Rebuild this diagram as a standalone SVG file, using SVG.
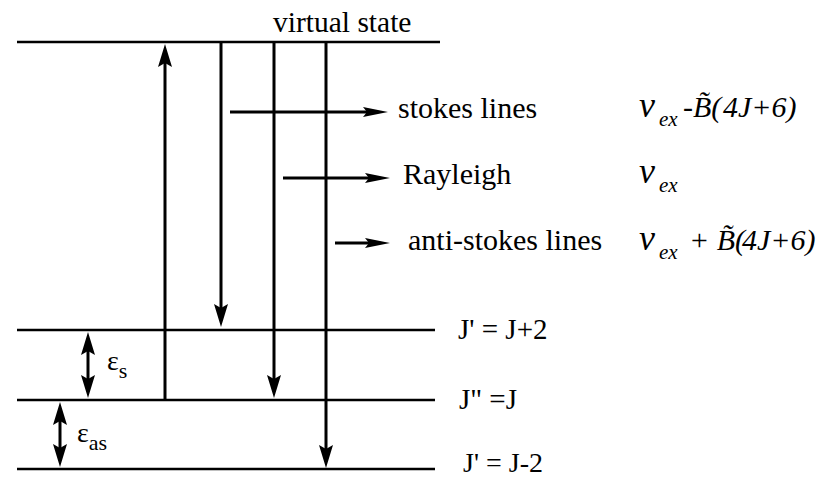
<svg xmlns="http://www.w3.org/2000/svg" width="821" height="479" viewBox="0 0 821 479">
<style>
.lvl{stroke:#000;stroke-width:2.5;fill:none}
.ar{stroke:#000;stroke-width:3;fill:none}
.m{font-style:italic}
</style>
<defs>
<marker id="ah" markerUnits="userSpaceOnUse" markerWidth="24" markerHeight="16" viewBox="0 -8 24 16" refX="8" refY="0" orient="auto-start-reverse">
<path d="M0,-7 L23,0 L0,7 L4,0 Z" fill="#000"/>
</marker>
<marker id="ahs" markerUnits="userSpaceOnUse" markerWidth="26" markerHeight="12" viewBox="0 -6 26 12" refX="8" refY="0" orient="auto">
<path d="M0,-5 L25,0 L0,5 L4,0 Z" fill="#000"/>
</marker>
</defs>
<rect width="821" height="479" fill="#fff"/>
<g font-family="Liberation Serif, Times New Roman, DejaVu Serif, serif" fill="#000">
<g id="level-virtual"><line class="lvl" x1="17" y1="42" x2="440" y2="42"/><text x="273" y="32" font-size="29.5">virtual state</text></g>
<g id="level-J2"><line class="lvl" x1="17" y1="330" x2="435" y2="330"/><text x="458" y="339" font-size="29" xml:space="preserve">J' = J+2</text></g>
<g id="level-J"><line class="lvl" x1="17" y1="400" x2="435" y2="400"/><text x="459" y="409" font-size="29" xml:space="preserve">J" =J</text></g>
<g id="level-Jm2"><line class="lvl" x1="17" y1="469" x2="435" y2="469"/><text x="463" y="472" font-size="28" xml:space="preserve">J' = J-2</text></g>
<g id="label-stokes"><text x="398" y="118" font-size="30">stokes lines</text>
<text class="m" x="639" y="117" font-size="36">ν</text><text class="m" x="659" y="126" font-size="21">ex</text><text class="m" x="683" y="117" font-size="30">-B̃(<tspan x="723">4J+6)</tspan></text></g>
<g id="label-rayleigh"><text x="403" y="184" font-size="30">Rayleigh</text>
<text class="m" x="639" y="183" font-size="36">ν</text><text class="m" x="659" y="192" font-size="21">ex</text></g>
<g id="label-antistokes"><text x="408" y="250" font-size="30">anti-stokes lines</text>
<text class="m" x="639" y="250" font-size="36">ν</text><text class="m" x="659" y="259" font-size="21">ex</text><text class="m" x="689" y="250" font-size="30">+ B̃(<tspan x="742">4J+6)</tspan></text></g>
<g id="label-eps-s"><text x="107" y="370" font-size="28">ε<tspan font-size="22" dy="8">s</tspan></text></g>
<g id="label-eps-as"><text x="77" y="442" font-size="28">ε<tspan font-size="22" dy="8">as</tspan></text></g>
</g>
<g id="connectors">
<line class="ar" x1="165" y1="400" x2="165" y2="59" marker-end="url(#ah)"/>
<line class="ar" x1="221" y1="42" x2="221" y2="312" marker-end="url(#ah)"/>
<line class="ar" x1="274" y1="42" x2="274" y2="383" marker-end="url(#ah)"/>
<line class="ar" x1="326" y1="42" x2="326" y2="453" marker-end="url(#ah)"/>
<line class="ar" x1="88" y1="347" x2="88" y2="383" marker-start="url(#ah)" marker-end="url(#ah)"/>
<line class="ar" x1="60" y1="417" x2="60" y2="452" marker-start="url(#ah)" marker-end="url(#ah)"/>
<line class="ar" x1="230" y1="112" x2="371" y2="112" marker-end="url(#ahs)"/>
<line class="ar" x1="283" y1="178" x2="373" y2="178" marker-end="url(#ahs)"/>
<line class="ar" x1="335" y1="243" x2="373" y2="243" marker-end="url(#ahs)"/>
</g>
</svg>
